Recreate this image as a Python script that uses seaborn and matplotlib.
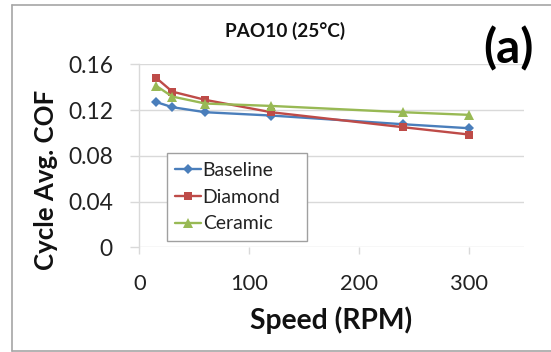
import matplotlib
matplotlib.use("Agg")
import matplotlib.pyplot as plt
import seaborn as sns
import pandas as pd
from matplotlib.lines import Line2D

speed = [15, 30, 60, 120, 240, 300]
baseline = [0.1271, 0.1225, 0.1181, 0.1152, 0.1076, 0.1041]
diamond = [0.1484, 0.1361, 0.1289, 0.1181, 0.1050, 0.0986]
ceramic = [0.1414, 0.1318, 0.1257, 0.1236, 0.1181, 0.1158]
series_names = ["Baseline", "Diamond", "Ceramic"]
x_ticks = [0, 100, 200, 300]
y_ticks = [0, 0.04, 0.08, 0.12, 0.16]
y_tick_labels = ["0", "0.04", "0.08", "0.12", "0.16"]

df = pd.DataFrame({
    "Speed": speed * 3,
    "COF": baseline + diamond + ceramic,
    "Series": sum([[n] * len(speed) for n in series_names], []),
})

sns.set_theme(style="white")
plt.rcParams['font.family'] = ['Lato', 'DejaVu Sans']

W, H = 551, 352
fig = plt.figure(figsize=(W / 100, H / 100), dpi=100)
L, R, T, B = 139.3, 524.0, 64.3, 247.3
ax = fig.add_axes([L / W, 1 - B / H, (R - L) / W, (B - T) / H])

palette = {"Baseline": "#4A7EBB", "Diamond": "#BE4B48", "Ceramic": "#98B954"}
markers = {"Baseline": "D", "Diamond": "s", "Ceramic": "^"}
sizes = {"Baseline": 4.8, "Diamond": 6.3, "Ceramic": 6.5}

for name in series_names:
    sub = df[df["Series"] == name]
    sns.lineplot(data=sub, x="Speed", y="COF", ax=ax, color=palette[name],
                 marker=markers[name], markersize=sizes[name], markeredgewidth=0,
                 linewidth=1.7, label=name)

ax.set_xlim(0, 350)
ax.set_ylim(0, 0.16)
ax.set_xticks(x_ticks)
ax.set_xticklabels([str(t) for t in x_ticks])
ax.set_yticks(y_ticks)
ax.set_yticklabels(y_tick_labels)
ax.grid(axis="y", color="#D9D9D9", linewidth=1)
ax.grid(axis="x", visible=False)
for s in ["top", "right", "bottom"]:
    ax.spines[s].set_visible(False)
ax.spines["left"].set_color("#D9D9D9")
ax.spines["left"].set_linewidth(1)
ax.tick_params(axis="y", left=True, length=6.2, width=1, color="#D9D9D9",
               labelsize=16, labelcolor="#222222", pad=8)
ax.tick_params(axis="x", bottom=True, length=5, width=1, color="#D9D9D9",
               labelsize=16, labelcolor="#222222", pad=14)

ax.set_xlabel("Speed (RPM)", fontsize=20, fontweight="bold", color="#111111")
ax.set_ylabel("Cycle Avg. COF", fontsize=21, fontweight="bold", color="#111111")
ax.xaxis.label.set_va("center")
ax.yaxis.label.set_va("center")
ax.xaxis.set_label_coords((331.5 - L) / (R - L), (B - 320.7) / (B - T))
ax.yaxis.set_label_coords((46 - L) / (R - L), (B - 180) / (B - T))

lx0 = (166.7 - L) / (R - L)
lx1 = (306.7 - L) / (R - L)
ly1 = (B - 153.3) / (B - T)
leg = ax.legend(loc="upper left", bbox_to_anchor=(lx0, ly1 - 0.3, lx1 - lx0, 0.3), mode="expand",
                fontsize=14, frameon=True, fancybox=False, edgecolor="#A0A0A0",
                framealpha=1, borderpad=0.45, labelspacing=0.5, handlelength=1.3,
                handletextpad=0.1, borderaxespad=0)
leg.get_frame().set_linewidth(1)
for t in leg.get_texts():
    t.set_color("#222222")

title = fig.text(285 / W, 1 - 30.5 / H, "PAO10 (25°C)", fontsize=13, fontweight="bold",
                 ha="center", va="center", color="#111111")
tag = fig.text(508 / W, 1 - 48.3 / H, "(a)", fontsize=27, fontweight="bold",
               ha="center", va="center", color="#000000")

# fit text sizes to the reference widths (pixels)
fig.canvas.draw()
rend = fig.canvas.get_renderer()

def scale_to(texts, target, vertical=False):
    t0 = texts[0]
    bb = t0.get_window_extent(rend)
    cur = bb.height if vertical else bb.width
    f = t0.get_fontsize() * target / cur
    for t in texts:
        t.set_fontsize(f)
    return f

yt = [t for t in ax.get_yticklabels() if t.get_text() == "0.16"]
fy = scale_to(yt, 45)
ax.tick_params(axis="y", labelsize=fy)
xt = [t for t in ax.get_xticklabels() if t.get_text() == "100"]
fx = scale_to(xt, 38)
ax.tick_params(axis="x", labelsize=fx)
scale_to([ax.xaxis.label], 163)
scale_to([ax.yaxis.label], 180, vertical=True)
scale_to([title], 120)
scale_to([tag], 50)
lt = [t for t in leg.get_texts() if t.get_text() == "Baseline"]
scale_to(lt, 71)
for t in leg.get_texts():
    t.set_fontsize(lt[0].get_fontsize())

fig.canvas.draw()
# adjust tick label pads so labels sit where they are in the reference
r = max(t.get_window_extent(rend).x1 for t in ax.get_yticklabels())
ax.tick_params(axis="y", pad=8 + (r - 113) * 0.72)
c = [t.get_window_extent(rend) for t in ax.get_xticklabels() if t.get_text() == "100"][0]
cy = (c.y0 + c.y1) / 2
ax.tick_params(axis="x", pad=14 + (cy - (H - 283.5)) * 0.72)

# outer frame
fig.add_artist(Line2D([12 / W, 12 / W], [1 - 350.5 / H, 1 - 5 / H], color="#A6A6A6", lw=1.2))
fig.add_artist(Line2D([12 / W, 1], [1 - 5 / H, 1 - 5 / H], color="#A6A6A6", lw=1.2))
fig.add_artist(Line2D([12 / W, 1], [1 - 350.5 / H, 1 - 350.5 / H], color="#A6A6A6", lw=1.2))

fig.savefig("out.png", dpi=100, facecolor="white")
